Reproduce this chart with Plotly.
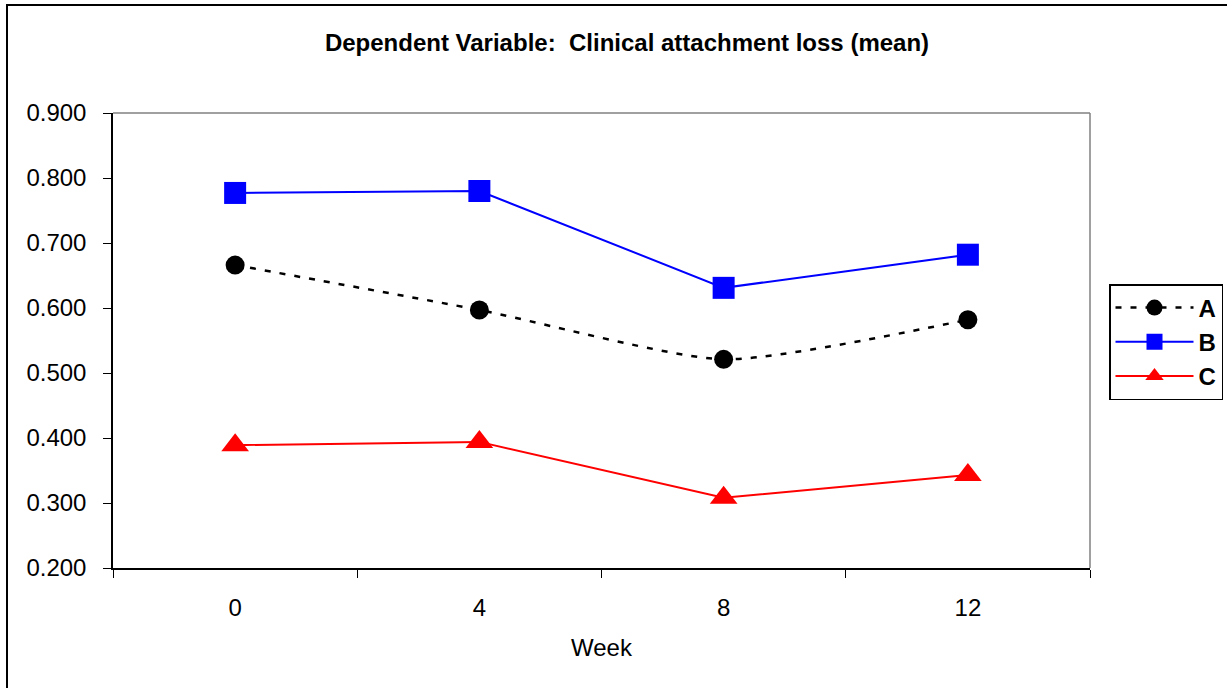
import plotly.graph_objects as go

weeks = ["0", "4", "8", "12"]
series_a = [0.666, 0.597, 0.521, 0.582]
series_b = [0.777, 0.780, 0.631, 0.682]
series_c = [0.389, 0.394, 0.308, 0.343]
y_ticks = [0.2, 0.3, 0.4, 0.5, 0.6, 0.7, 0.8, 0.9]

FONT = "Liberation Sans, Arial, sans-serif"

fig = go.Figure()
fig.add_trace(go.Scatter(
    x=weeks, y=series_a, name="A", mode="lines+markers",
    line=dict(color="black", width=2.5, dash="6px,9px", shape="spline", smoothing=0.6),
    marker=dict(symbol="circle", size=19, color="black"),
))
fig.add_trace(go.Scatter(
    x=weeks, y=series_b, name="B", mode="lines+markers",
    line=dict(color="#0000FF", width=2),
    marker=dict(symbol="square", size=22, color="#0000FF"),
))
fig.add_trace(go.Scatter(
    x=weeks, y=series_c, name="C", mode="lines+markers",
    line=dict(color="#FF0000", width=2),
    marker=dict(symbol="triangle-up", size=24, color="#FF0000"),
))

W, H = 1227, 688
L, R, T, B = 113, 137, 113, 120
pw, ph = W - L - R, H - T - B

def px2x(px):
    return (px - L) / pw

def py2y(py):
    return (H - B - py) / ph

# outer chart border
fig.add_shape(type="rect", xref="paper", yref="paper",
              x0=px2x(7), x1=px2x(1240), y0=py2y(700), y1=py2y(5),
              line=dict(color="black", width=2), layer="below")
# plot area top/right gray border
fig.add_shape(type="line", xref="paper", yref="paper", x0=0, x1=1, y0=1, y1=1,
              line=dict(color="#808080", width=1.5))
fig.add_shape(type="line", xref="paper", yref="paper", x0=1, x1=1, y0=0, y1=1,
              line=dict(color="#808080", width=1.5))

fig.update_layout(
    width=W, height=H,
    margin=dict(l=L, r=R, t=T, b=B, autoexpand=False),
    paper_bgcolor="white", plot_bgcolor="white",
    font=dict(family=FONT, size=24, color="black"),
    title=dict(text="<b>Dependent Variable:  Clinical attachment loss (mean)</b>",
               x=627 / W, xref="container", xanchor="center", y=1 - 43 / H, yanchor="middle",
               font=dict(family=FONT, size=24, color="black")),
    xaxis=dict(type="category", categoryorder="array", categoryarray=weeks,
               range=[-0.5, 3.5], tickson="boundaries", ticks="outside", ticklen=8,
               tickcolor="black", showline=True, linecolor="black", linewidth=1.5,
               showgrid=False, zeroline=False, ticklabelstandoff=17,
               tickfont=dict(family=FONT, size=24),
               title=dict(text="Week", standoff=20, font=dict(family=FONT, size=24))),
    yaxis=dict(range=[0.2, 0.9], tickvals=y_ticks, tickformat=".3f",
               ticks="outside", ticklen=8, tickcolor="black",
               tickfont=dict(family=FONT, size=24),
               showline=True, linecolor="black", linewidth=1.5,
               showgrid=False, zeroline=False, ticklabelstandoff=12),
    legend=dict(x=px2x(1109), y=py2y(284), xanchor="left", yanchor="top",
                bordercolor="black", borderwidth=1.5, bgcolor="white",
                font=dict(family=FONT, size=24, color="black", weight="bold"),
                itemwidth=78, tracegroupgap=0),
    showlegend=True,
)

fig.write_html("out.html", config={"displayModeBar": False},
               post_script="document.body.style.margin='0';document.body.style.overflow='hidden';")
